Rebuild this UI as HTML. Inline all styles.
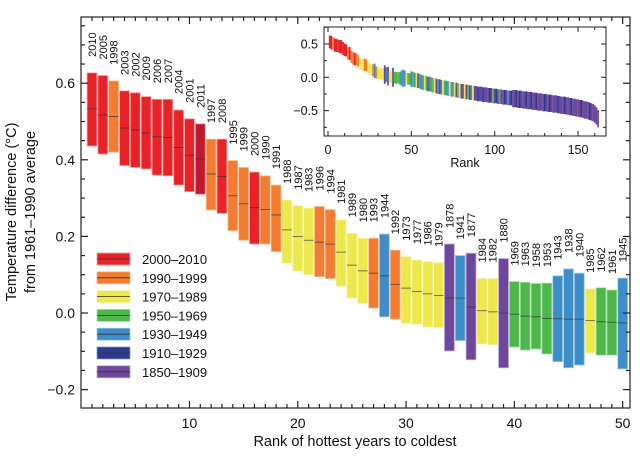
<!DOCTYPE html>
<html><head><meta charset="utf-8"><style>
html,body{margin:0;padding:0;background:#fff;}
svg{display:block;font-family:"Liberation Sans",Arial,sans-serif;}
</style></head><body>
<svg id="chart" width="640" height="456" viewBox="0 0 640 456"></svg>
<script>
const years=[2010,2005,1998,2003,2002,2009,2006,2007,2004,2001,2011,1997,2008,1995,1999,2000,1990,1991,1988,1987,1983,1996,1994,1981,1989,1980,1993,1944,1992,1973,1977,1986,1979,1878,1941,1877,1984,1982,1880,1969,1963,1958,1953,1943,1938,1940,1985,1962,1961,1945];
const midVals=[0.533,0.517,0.513,0.483,0.478,0.47,0.46,0.458,0.432,0.412,0.402,0.363,0.356,0.306,0.285,0.275,0.27,0.256,0.217,0.2,0.19,0.185,0.18,0.159,0.125,0.11,0.104,0.097,0.075,0.065,0.056,0.05,0.046,0.039,0.039,0.016,0.006,0.003,0,-0.003,-0.008,-0.01,-0.014,-0.015,-0.016,-0.016,-0.02,-0.023,-0.024,-0.026];
const topVals=[0.627,0.62,0.606,0.58,0.575,0.565,0.558,0.558,0.53,0.507,0.494,0.454,0.454,0.398,0.38,0.368,0.358,0.334,0.295,0.28,0.274,0.278,0.27,0.243,0.208,0.195,0.195,0.206,0.164,0.147,0.138,0.134,0.131,0.18,0.15,0.156,0.09,0.09,0.142,0.082,0.08,0.077,0.078,0.097,0.115,0.104,0.063,0.066,0.06,0.091];
const botVals=[0.436,0.415,0.42,0.385,0.38,0.376,0.36,0.358,0.334,0.317,0.31,0.269,0.26,0.215,0.19,0.18,0.18,0.16,0.13,0.11,0.1,0.095,0.09,0.07,0.039,0.025,0.013,-0.01,-0.016,-0.027,-0.029,-0.036,-0.038,-0.099,-0.072,-0.122,-0.081,-0.083,-0.143,-0.089,-0.097,-0.094,-0.107,-0.127,-0.143,-0.136,-0.104,-0.11,-0.11,-0.146];
const yTicks=[-0.2,0.0,0.2,0.4,0.6];
const yTickLabels=["\u22120.2","0.0","0.2","0.4","0.6"];
const xTicks=[10,20,30,40,50];
const legendLabels=["2000\u20132010","1990\u20131999","1970\u20131989","1950\u20131969","1930\u20131949","1910\u20131929","1850\u20131909"];
const insetMidTail=[-0.03,-0.04,-0.05,-0.05,-0.06,-0.07,-0.08,-0.08,-0.09,-0.10,-0.10,-0.11,-0.12,-0.12,-0.13,-0.14,-0.14,-0.15,-0.15,-0.16,-0.16,-0.17,-0.17,-0.18,-0.18,-0.19,-0.19,-0.20,-0.20,-0.21,-0.21,-0.21,-0.22,-0.22,-0.23,-0.23,-0.23,-0.24,-0.24,-0.25,-0.25,-0.25,-0.26,-0.26,-0.26,-0.27,-0.27,-0.27,-0.28,-0.28,-0.28,-0.29,-0.29,-0.29,-0.30,-0.30,-0.30,-0.31,-0.31,-0.31,-0.32,-0.32,-0.32,-0.33,-0.33,-0.33,-0.34,-0.34,-0.34,-0.35,-0.35,-0.35,-0.36,-0.36,-0.36,-0.37,-0.37,-0.37,-0.38,-0.38,-0.38,-0.39,-0.39,-0.39,-0.40,-0.40,-0.40,-0.41,-0.41,-0.42,-0.42,-0.42,-0.43,-0.43,-0.44,-0.44,-0.45,-0.45,-0.46,-0.46,-0.47,-0.47,-0.48,-0.49,-0.49,-0.50,-0.51,-0.52,-0.53,-0.55,-0.58,-0.62];
const insetPeriodTail=[3,4,2,6,3,4,4,2,3,6,4,3,3,2,6,4,6,4,2,3,4,4,2,3,4,2,6,3,2,6,6,2,6,3,6,4,2,6,6,5,6,6,5,6,6,6,5,6,3,6,5,6,3,6,6,5,6,4,6,5,6,6,5,6,5,6,6,6,5,6,6,5,6,6,5,6,6,6,6,5,6,6,5,6,6,6,6,5,6,6,6,5,6,6,6,5,6,6,6,6,6,5,6,6,6,6,5,6,6,6,6,6];
const insetTicksY=[0.5,0.0,-0.5];
const insetTickLabelsY=["0.5","0.0","\u22120.5"];
const insetTicksX=[0,50,100,150];

const NS="http://www.w3.org/2000/svg";
const svg=document.getElementById('chart');
function mk(tag,attrs,parent){const e=document.createElementNS(NS,tag);for(const k in attrs)e.setAttribute(k,attrs[k]);(parent||svg).appendChild(e);return e;}
const fills=["#e82229","#f47c30","#ede84c","#4db84a","#3d8dc9","#2b3990","#6c479b"];
const strokes=["#f7a1a0","#f9b98f","#f6f3a6","#a6dca5","#9fc7e6","#8f97c8","#b7a1cf"];
function periodOf(y){if(y>=2000)return 0;if(y>=1990)return 1;if(y>=1970)return 2;if(y>=1950)return 3;if(y>=1930)return 4;if(y>=1910)return 5;return 6;}

const L=81,R=630,T=17,B=408;
function xs(r){return 92+(r-1)*10.83;}
function ys(v){return 313-v*383;}

const barsG=mk('g',{});


for(let i=0;i<years.length;i++){
  const p=periodOf(years[i]);
  let f=fills[p]; if(years[i]===2011) f="#c2182f";
  const x=xs(i+1)-4.9;
  const b=mk('rect',{x:x,y:ys(topVals[i]),width:9.8,height:ys(botVals[i])-ys(topVals[i]),fill:f,stroke:strokes[p],'stroke-width':0.8},barsG);
  
  
  const m=mk('line',{x1:x,x2:x+9.8,y1:ys(midVals[i]),y2:ys(midVals[i]),stroke:'#333',"stroke-width":0.8,opacity:0.8},barsG);
  
  
  const tx=xs(i+1)+4, ty=ys(topVals[i])-16;
  const t=mk('text',{x:0,y:0,transform:`translate(${tx},${ty}) rotate(-90)`,'font-size':11,fill:'#111'},barsG);
  t.textContent=years[i];
  
  
}

const ax=mk('g',{stroke:'#222','stroke-width':1.2,fill:'none'});


mk('rect',{x:L,y:T,width:R-L,height:B-T},ax);
for(let v=-0.25;v<=0.76;v+=0.05){
  const vv=Math.round(v*100)/100; const y=ys(vv); if(y<T||y>B)continue;
  const major=Math.abs(Math.round(vv*10)-vv*10)<1e-6 && Math.round(vv*10)%2===0;
  const len=major?7:4;
  mk('line',{x1:L,x2:L+len,y1:y,y2:y},ax);
  mk('line',{x1:R,x2:R-len,y1:y,y2:y},ax);
}
for(let r=1;r<=50;r++){
  const len=(r%10===0)?7:4; const x=xs(r);
  mk('line',{x1:x,x2:x,y1:B,y2:B-len},ax);
  mk('line',{x1:x,x2:x,y1:T,y2:T+len},ax);
}
yTicks.forEach((v,i)=>{
  const t=mk('text',{x:L-6,y:ys(v)+5,'text-anchor':'end','font-size':14,fill:'#111'});
  t.textContent=yTickLabels[i];
  
  
});
xTicks.forEach(r=>{
  const t=mk('text',{x:xs(r),y:428,'text-anchor':'middle','font-size':14,fill:'#111'});
  t.textContent=r;
  
  
});
const xt=mk('text',{x:355,y:446,'text-anchor':'middle','font-size':14.5,fill:'#111'});
xt.textContent='Rank of hottest years to coldest';


const yt=mk('text',{transform:'translate(16,212) rotate(-90)','text-anchor':'middle','font-size':14.5,fill:'#111'});


const ts1=mk('tspan',{x:0,y:0},yt); ts1.textContent='Temperature difference (\u00B0C)';
const ts2=mk('tspan',{x:0,y:19},yt); ts2.textContent='from 1961\u20131990 average';

const lg=mk('g',{});


legendLabels.forEach((lab,i)=>{
  const y=259+i*18.8;
  const e=mk('g',{},lg);
  
  
  mk('rect',{x:97,y:y-6,width:33,height:12,fill:fills[i],stroke:strokes[i],'stroke-width':0.8},e);
  mk('line',{x1:97,x2:130,y1:y,y2:y,stroke:'#333','stroke-width':0.8},e);
  const t=mk('text',{x:142,y:y+5,'font-size':13,fill:'#111'},e);
  t.textContent=lab;
});

const IL=324,IR=606,IT=27,IB=136;
function ixs(r){return 328+r*1.667;}
function iys(v){return 77.3-v*66.7;}
const ig=mk('g',{});


mk('rect',{x:IL,y:IT,width:IR-IL,height:IB-IT,fill:'#fff'},ig);
const insetBars=mk('g',{},ig);


const nTot=years.length+insetMidTail.length;
for(let r=1;r<=nTot;r++){
  let top,bot,p;
  if(r<=years.length){top=topVals[r-1];bot=botVals[r-1];p=periodOf(years[r-1]);}
  else{const m=insetMidTail[r-51];const h=r>110?0.13:0.11;top=m+h;bot=m-h;p=insetPeriodTail[r-51];}
  const b=mk('rect',{x:ixs(r)-0.85,y:iys(top),width:1.75,height:iys(bot)-iys(top),fill:fills[p]},insetBars);
  
  
}
const iax=mk('g',{stroke:'#222','stroke-width':1,fill:'none'},ig);
mk('rect',{x:IL,y:IT,width:IR-IL,height:IB-IT},iax);
for(let v=-0.75;v<=0.76;v+=0.25){const y=iys(v);if(y<IT||y>IB)continue;const len=Math.abs(v*2-Math.round(v*2))<1e-6?5:3;mk('line',{x1:IL,x2:IL+len,y1:y,y2:y},iax);mk('line',{x1:IR,x2:IR-len,y1:y,y2:y},iax);}
for(let r=0;r<=165;r+=10){const x=ixs(r);if(x>IR)continue;const len=r%50===0?5:3;mk('line',{x1:x,x2:x,y1:IB,y2:IB-len},iax);mk('line',{x1:x,x2:x,y1:IT,y2:IT+len},iax);}
insetTicksY.forEach((v,i)=>{const t=mk('text',{x:IL-6,y:iys(v)+4.5,'text-anchor':'end','font-size':12.5,fill:'#111'},ig);t.textContent=insetTickLabelsY[i];

});
insetTicksX.forEach(r=>{const t=mk('text',{x:ixs(r),y:154,'text-anchor':'middle','font-size':12.5,fill:'#111'},ig);t.textContent=r;

});
const ir=mk('text',{x:465,y:167,'text-anchor':'middle','font-size':12.5,fill:'#111'},ig);
ir.textContent='Rank';


</script>
</body></html>
